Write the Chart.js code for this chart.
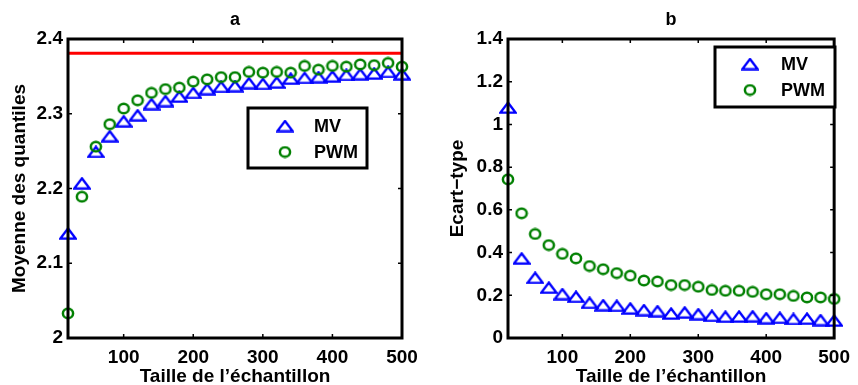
<!DOCTYPE html>
<html>
<head>
<meta charset="utf-8">
<script src="https://cdn.jsdelivr.net/npm/chart.js@4/dist/chart.umd.min.js"></script>
<style>
  html, body { margin: 0; padding: 0; background: #fff; }
  #wrap { position: relative; width: 858px; height: 385px; overflow: hidden; }
  canvas { position: absolute; top: 0; }
  #cA { left: 0; }
  #cB { left: 429px; }
</style>
</head>
<body>
<div id="wrap">
  <canvas id="cA" width="429" height="385"></canvas>
  <canvas id="cB" width="429" height="385"></canvas>
</div>
<script>
// ---------------- data ----------------
const sampleSizes = [20, 40, 60, 80, 100, 120, 140, 160, 180, 200, 220, 240, 260,
                     280, 300, 320, 340, 360, 380, 400, 420, 440, 460, 480, 500];

const meanMV  = [2.140, 2.207, 2.249, 2.270, 2.290, 2.298, 2.313, 2.317, 2.323, 2.328,
                 2.333, 2.336, 2.337, 2.341, 2.340, 2.342, 2.347, 2.348, 2.349, 2.350,
                 2.352, 2.353, 2.354, 2.356, 2.353];
const meanPWM = [2.033, 2.189, 2.256, 2.286, 2.307, 2.318, 2.328, 2.333, 2.335, 2.343,
                 2.346, 2.349, 2.349, 2.356, 2.355, 2.356, 2.355, 2.364, 2.359, 2.364,
                 2.363, 2.366, 2.365, 2.368, 2.363];
const trueQuantile = 2.381;

const sdMV  = [1.079, 0.373, 0.282, 0.236, 0.206, 0.193, 0.165, 0.154, 0.151, 0.139,
               0.131, 0.126, 0.115, 0.120, 0.112, 0.104, 0.100, 0.101, 0.102, 0.093,
               0.095, 0.089, 0.091, 0.084, 0.082];
const sdPWM = [0.743, 0.584, 0.487, 0.435, 0.394, 0.373, 0.337, 0.322, 0.304, 0.292,
               0.269, 0.265, 0.248, 0.248, 0.240, 0.225, 0.221, 0.221, 0.216, 0.205,
               0.205, 0.197, 0.190, 0.190, 0.183];

const xTicks  = [100, 200, 300, 400, 500];
const yTicksA = [2, 2.1, 2.2, 2.3, 2.4];
const yTicksB = [0, 0.2, 0.4, 0.6, 0.8, 1, 1.2, 1.4];
const seriesNames = ['MV', 'PWM'];
const panelTitles = ['a', 'b'];
const xTitle = 'Taille de l\u2019échantillon';
const yTitles = ['Moyenne des quantiles', 'Ecart\u2212type'];

// ---------------- styles ----------------
const FONT = '"Liberation Sans", Arial, Helvetica, sans-serif';
Chart.defaults.font.family = FONT;
Chart.defaults.color = '#000';

function triImg(color) {
  const c = document.createElement('canvas');
  c.width = 18; c.height = 13;
  const g = c.getContext('2d');
  g.strokeStyle = color; g.lineWidth = 2.4; g.lineJoin = 'miter';
  g.beginPath();
  g.moveTo(9, 1.6); g.lineTo(16.6, 11.6); g.lineTo(1.4, 11.6); g.closePath();
  g.stroke();
  return c;
}
function circImg(color) {
  const c = document.createElement('canvas');
  c.width = 14; c.height = 13;
  const g = c.getContext('2d');
  g.strokeStyle = color; g.lineWidth = 2.5;
  g.beginPath();
  g.ellipse(7, 6.5, 5.1, 4.8, 0, 0, Math.PI * 2);
  g.stroke();
  return c;
}
const TRI = triImg('#0000ff');
const CIRC = circImg('#008000');

function pts(ys) { return sampleSizes.map((x, i) => ({ x: x, y: ys[i] })); }

const boxPlugin = {
  id: 'matlabBox',
  afterDraw(chart, args, opts) {
    const { ctx, chartArea: a } = chart;
    const xs = chart.scales.x, ys = chart.scales.y;
    ctx.save();
    ctx.strokeStyle = '#000';
    // inward ticks
    ctx.lineWidth = 1.5;
    ctx.beginPath();
    xs.ticks.forEach(t => {
      const px = xs.getPixelForValue(t.value);
      ctx.moveTo(px, a.bottom); ctx.lineTo(px, a.bottom - 4);
      ctx.moveTo(px, a.top); ctx.lineTo(px, a.top + 4);
    });
    ys.ticks.forEach(t => {
      const py = ys.getPixelForValue(t.value);
      ctx.moveTo(a.left, py); ctx.lineTo(a.left + 4, py);
      ctx.moveTo(a.right, py); ctx.lineTo(a.right - 4, py);
    });
    ctx.stroke();
    // box
    ctx.lineWidth = 3;
    ctx.strokeRect(a.left, a.top, a.right - a.left, a.bottom - a.top);
    // panel title
    ctx.fillStyle = '#000';
    ctx.font = 'bold 18px ' + FONT;
    ctx.textAlign = 'center';
    ctx.textBaseline = 'middle';
    ctx.fillText(opts.title, (a.left + a.right) / 2, 20);
    // legend
    const L = opts.legend;
    ctx.fillStyle = '#fff';
    ctx.fillRect(L.x, L.y, L.w, L.h);
    ctx.lineWidth = 3;
    ctx.strokeRect(L.x, L.y, L.w, L.h);
    ctx.fillStyle = '#000';
    ctx.textAlign = 'left';
    L.rows.forEach(r => {
      ctx.drawImage(r.img, L.mx - r.img.width / 2, r.y - r.img.height / 2);
      ctx.fillText(r.label, L.tx, r.ty);
    });
    ctx.restore();
  }
};

function makeChart(id, cfg) {
  return new Chart(document.getElementById(id), {
    type: 'scatter',
    data: { datasets: cfg.datasets },
    options: {
      responsive: false,
      devicePixelRatio: 1,
      animation: false,
      events: [],
      layout: { padding: { top: 39, left: 0, right: cfg.padRight, bottom: 0 } },
      plugins: {
        legend: { display: false },
        tooltip: { enabled: false },
        matlabBox: { title: cfg.title, legend: cfg.legend }
      },
      scales: {
        x: {
          type: 'linear', min: 20, max: 500,
          afterBuildTicks: s => { s.ticks = xTicks.map(v => ({ value: v })); },
          afterFit: s => { s.height = 47; },
          grid: { display: false, drawTicks: false },
          border: { display: false },
          ticks: { padding: 8, font: { size: 19, weight: 'bold' }, callback: v => String(v), maxRotation: 0 },
          title: { display: true, text: xTitle, font: { size: 19, weight: 'bold' }, padding: { top: 0, bottom: -3 } }
        },
        y: {
          type: 'linear', min: cfg.yMin, max: cfg.yMax,
          afterBuildTicks: s => { s.ticks = cfg.yTicks.map(v => ({ value: v })); },
          afterFit: s => { s.width = cfg.yWidth; },
          grid: { display: false, drawTicks: false },
          border: { display: false },
          ticks: { padding: 5, font: { size: 19, weight: 'bold' }, callback: v => String(v) },
          title: { display: true, text: cfg.yTitle, font: { size: 19, weight: 'bold' }, padding: { top: cfg.yTitlePad, bottom: 0 } }
        }
      }
    },
    plugins: [boxPlugin]
  });
}

makeChart('cA', {
  title: panelTitles[0],
  yTitle: yTitles[0], yTitlePad: 8,
  yMin: 2, yMax: 2.4, yTicks: yTicksA, yWidth: 68, padRight: 27,
  datasets: [
    { label: seriesNames[1], data: pts(meanPWM), showLine: false, pointStyle: CIRC, pointRadius: 6, clip: false, order: 0 },
    { label: seriesNames[0], data: pts(meanMV), showLine: false, pointStyle: TRI, pointRadius: 8, clip: false, order: 1 },
    { label: 'ref', data: [{ x: 20, y: trueQuantile }, { x: 500, y: trueQuantile }], showLine: true,
      borderColor: '#ff0000', borderWidth: 3, pointRadius: 0, order: 2 }
  ],
  legend: { x: 248, y: 108, w: 119, h: 60, mx: 285, tx: 314,
            rows: [{ img: TRI, label: seriesNames[0], y: 126, ty: 127 },
                   { img: CIRC, label: seriesNames[1], y: 152, ty: 153.5 }] }
});

makeChart('cB', {
  title: panelTitles[1],
  yTitle: yTitles[1], yTitlePad: 17,
  yMin: 0, yMax: 1.4, yTicks: yTicksB, yWidth: 79, padRight: 15,
  datasets: [
    { label: seriesNames[1], data: pts(sdPWM), showLine: false, pointStyle: CIRC, pointRadius: 6, clip: false, order: 0 },
    { label: seriesNames[0], data: pts(sdMV), showLine: false, pointStyle: TRI, pointRadius: 8, clip: false, order: 1 }
  ],
  legend: { x: 286, y: 47, w: 120, h: 60, mx: 321, tx: 352,
            rows: [{ img: TRI, label: seriesNames[0], y: 64, ty: 65 },
                   { img: CIRC, label: seriesNames[1], y: 90, ty: 91.5 }] }
});
</script>
</body>
</html>
